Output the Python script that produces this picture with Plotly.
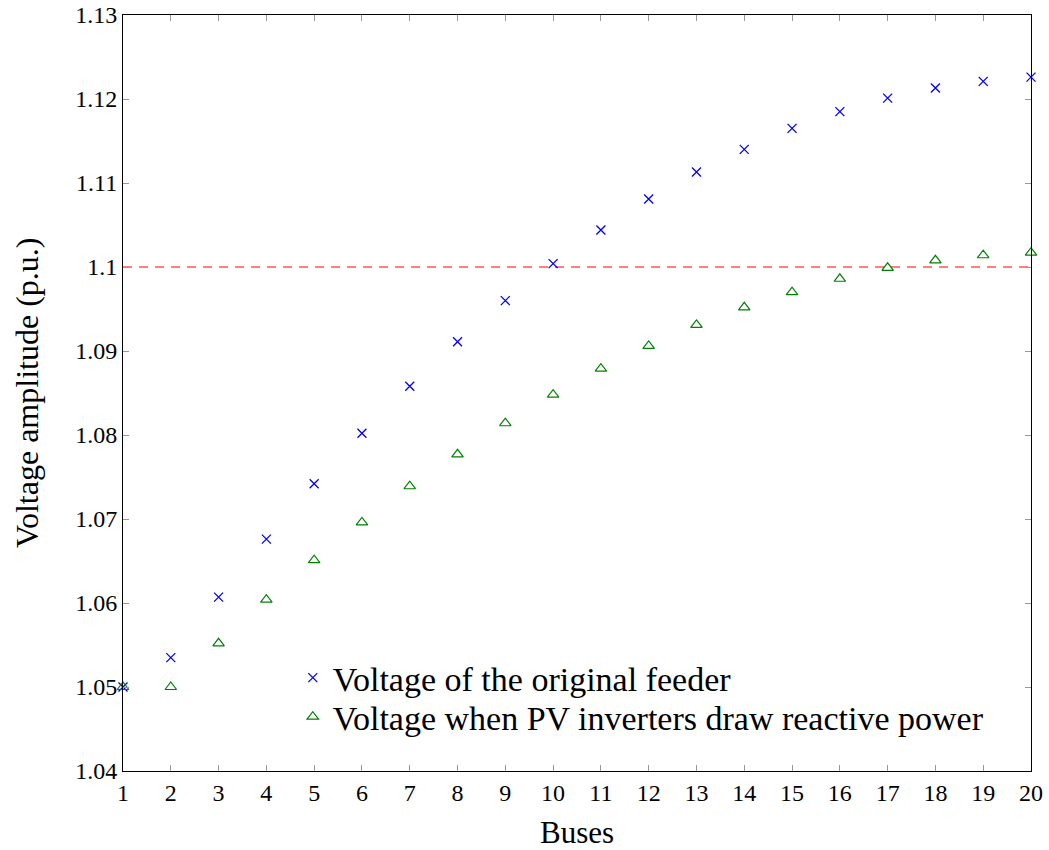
import plotly.graph_objects as go

buses = list(range(1, 21))
v_original = [1.0500, 1.0535, 1.0607, 1.0676, 1.0742, 1.0802, 1.0858, 1.0911, 1.0960, 1.1004,
              1.1044, 1.1081, 1.1113, 1.1140, 1.1165, 1.1185, 1.1201, 1.1213, 1.1221, 1.1226]
v_pv = [1.0500, 1.0500, 1.0552, 1.0604, 1.0651, 1.0696, 1.0739, 1.0777, 1.0814, 1.0848,
        1.0879, 1.0906, 1.0931, 1.0952, 1.0970, 1.0986, 1.0999, 1.1008, 1.1014, 1.1017]
limit = 1.1
y_ticks = [1.04, 1.05, 1.06, 1.07, 1.08, 1.09, 1.10, 1.11, 1.12, 1.13]
y_ticktext = ["1.04", "1.05", "1.06", "1.07", "1.08", "1.09", "1.1", "1.11", "1.12", "1.13"]

FONT = "Liberation Serif"

fig = go.Figure()
fig.add_trace(go.Scatter(x=[buses[0], buses[-1]], y=[limit, limit], mode="lines",
                         line=dict(color="#ff0000", width=1, dash="9px,7px"),
                         showlegend=False, hoverinfo="skip"))
fig.add_trace(go.Scatter(x=buses, y=v_original, mode="markers",
                         name="Voltage of the original feeder", legend="legend",
                         marker=dict(symbol="x-thin", size=9, color="blue",
                                     line=dict(color="blue", width=1.3)),
                         cliponaxis=False))
fig.add_trace(go.Scatter(x=buses, y=v_pv, mode="markers",
                         name="Voltage when PV inverters draw reactive power", legend="legend2",
                         marker=dict(symbol="triangle-up-open", size=10, color="green",
                                     line=dict(color="green", width=1.2)),
                         cliponaxis=False))

axis_common = dict(showline=True, linecolor="black", linewidth=1, mirror="ticks",
                   ticks="inside", ticklen=6, tickcolor="#999999", tickwidth=1,
                   showgrid=False, zeroline=False, automargin=False,
                   ticklabeloverflow="allow",
                   tickfont=dict(family=FONT, size=24, color="black"))

fig.update_xaxes(range=[1, 20], tickvals=buses, ticktext=[str(b) for b in buses],
                 **axis_common)
fig.update_yaxes(range=[1.04, 1.13], tickvals=y_ticks, ticktext=y_ticktext,
                 **axis_common)

fig.add_annotation(text="Buses", xref="paper", yref="paper", x=0.5, y=0,
                   xanchor="center", yanchor="middle", yshift=-61, showarrow=False,
                   font=dict(family=FONT, size=31, color="black"))
fig.add_annotation(text="Voltage amplitude (p.u.)", xref="paper", yref="paper", x=0, y=0.5,
                   xanchor="center", yanchor="middle", xshift=-96, textangle=-90, showarrow=False,
                   font=dict(family=FONT, size=32, color="black"))

legend_common = dict(xanchor="left", yanchor="middle", bgcolor="rgba(0,0,0,0)", borderwidth=0,
                     font=dict(family=FONT, size=34, color="black"), itemwidth=30)

fig.update_layout(
    width=1049, height=850,
    margin=dict(l=123, r=18, t=15, b=79),
    plot_bgcolor="white", paper_bgcolor="white",
    font=dict(family=FONT, size=24, color="black"),
    legend=dict(x=0.187, y=0.123, **legend_common),
    legend2=dict(x=0.187, y=0.0714, **legend_common),
)

fig.write_html("out.html", config={"displayModeBar": False},
               post_script="document.body.style.margin='0';")
